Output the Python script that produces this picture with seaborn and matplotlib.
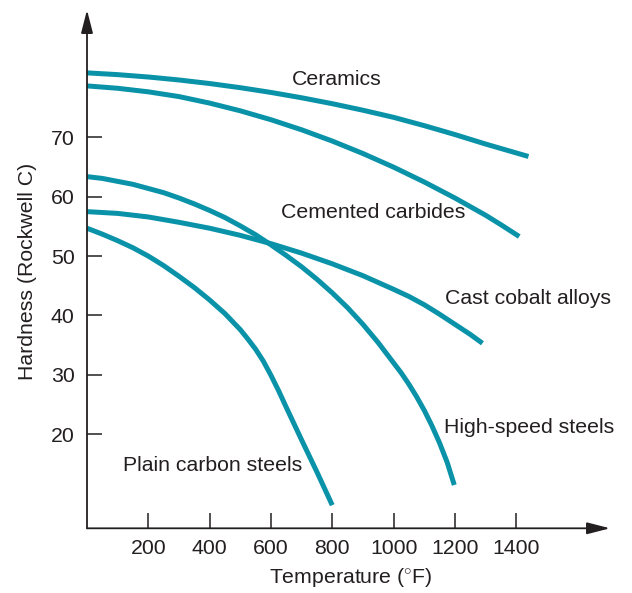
import numpy as np
import pandas as pd
import seaborn as sns
import matplotlib.pyplot as plt

# Значения (температура в °F, твердость HRC)
ceramics_t = [0, 100, 200, 300, 400, 500, 600, 700, 800, 900, 1000, 1100, 1200, 1300, 1440]
ceramics_h = [80.9, 80.6, 80.2, 79.7, 79.1, 78.4, 77.6, 76.7, 75.7, 74.6, 73.4, 72.0, 70.5, 68.9, 66.8]

carbides_t = [0, 100, 200, 300, 400, 500, 600, 700, 800, 900, 1000, 1100, 1200, 1300, 1350, 1410]
carbides_h = [78.7, 78.3, 77.7, 76.9, 75.8, 74.5, 73.0, 71.3, 69.4, 67.3, 65.0, 62.5, 59.8, 56.9, 55.3, 53.3]

cobalt_t = [0, 100, 200, 300, 400, 500, 600, 700, 800, 900, 1000, 1050, 1100, 1150, 1200, 1250, 1290]
cobalt_h = [57.5, 57.2, 56.6, 55.7, 54.7, 53.5, 52.1, 50.5, 48.7, 46.7, 44.4, 43.2, 41.8, 40.2, 38.5, 36.8, 35.3]

hss_t = [0, 50, 100, 150, 200, 250, 300, 350, 400, 450, 500, 550, 600, 650, 700, 750,
         800, 850, 900, 950, 1000, 1025, 1050, 1075, 1100, 1125, 1150, 1175, 1198]
hss_h = [63.4, 63.1, 62.6, 62.1, 61.4, 60.7, 59.8, 58.8, 57.7, 56.5, 55.1, 53.6, 51.9, 50.1, 48.2, 46.1,
         43.8, 41.3, 38.5, 35.4, 32.0, 30.3, 28.4, 26.3, 24.0, 21.4, 18.5, 15.2, 11.4]

carbon_t = [0, 50, 100, 150, 200, 250, 300, 350, 400, 450, 500, 525, 550, 575, 600,
            625, 650, 700, 750, 800]
carbon_h = [54.7, 53.7, 52.6, 51.4, 50.0, 48.4, 46.6, 44.7, 42.6, 40.3, 37.6, 36.0, 34.3, 32.3, 29.9,
            27.3, 24.5, 19.0, 13.6, 8.0]

materials = ["Ceramics", "Cemented carbides", "Cast cobalt alloys",
             "High-speed steels", "Plain carbon steels"]
temps = [ceramics_t, carbides_t, cobalt_t, hss_t, carbon_t]
hards = [ceramics_h, carbides_h, cobalt_h, hss_h, carbon_h]

# положение подписей кривых (левый край, базовая линия) в единицах данных
label_x = [668, 633, 1168, 1165, 118]
label_y = [78.9, 56.5, 42.0, 20.25, 13.7]

x_ticks = [200, 400, 600, 800, 1000, 1200, 1400]
y_ticks = [20, 30, 40, 50, 60, 70]

frames = []
for m, t, h in zip(materials, temps, hards):
    frames.append(pd.DataFrame({"material": m, "temp": t, "hardness": h}))
df = pd.concat(frames, ignore_index=True)

sns.set_style("white")
plt.rcParams['font.family'] = ['Liberation Sans', 'DejaVu Sans']
plt.rcParams['mathtext.fontset'] = 'custom'
plt.rcParams['mathtext.rm'] = 'Liberation Sans'

line_color = "#0a93a8"
text_color = "#231f20"
fs = 15.3

fig = plt.figure(figsize=(6.32, 5.93), dpi=100)
ax = fig.add_axes([87 / 632, (593 - 528.3) / 593, 523 / 632, 518.3 / 593])

sns.lineplot(data=df, x="temp", y="hardness", hue="material",
             palette={m: line_color for m in materials}, estimator=None,
             sort=False, legend=False, linewidth=3.6, ax=ax,
             solid_capstyle="butt", solid_joinstyle="round")

for m, lx, ly in zip(materials, label_x, label_y):
    ax.text(lx, ly, m, ha="left", va="baseline", fontsize=fs, color=text_color)

ax.set_xlim(0, 1706)
ax.set_ylim(4.1, 91.5)
ax.set_xticks(x_ticks)
ax.set_yticks(y_ticks)
ax.tick_params(axis="both", direction="in", length=11, width=1.1,
               color=text_color, labelsize=fs, labelcolor=text_color,
               bottom=True, left=True)
ax.tick_params(axis="x", pad=8)
ax.tick_params(axis="y", pad=9)

for s in ax.spines.values():
    s.set_visible(False)

arrow = dict(arrowstyle="-|>,head_length=0.7,head_width=0.18",
             color=text_color, lw=1.3, mutation_scale=20,
             shrinkA=0, shrinkB=0)
ax.annotate("", xy=(1, 0), xytext=(0, 0), xycoords="axes fraction",
            arrowprops=arrow, annotation_clip=False)
ax.annotate("", xy=(0, 1), xytext=(0, 0), xycoords="axes fraction",
            arrowprops=arrow, annotation_clip=False)

ax.set_xlabel(r"Temperature ($^{\circ}$F)", fontsize=fs, color=text_color)
ax.set_ylabel("Hardness (Rockwell C)", fontsize=fs, color=text_color)
ax.xaxis.set_label_coords(0.505, -0.073)
ax.yaxis.set_label_coords(-0.096, 0.495)

fig.savefig("out.png", dpi=100)
